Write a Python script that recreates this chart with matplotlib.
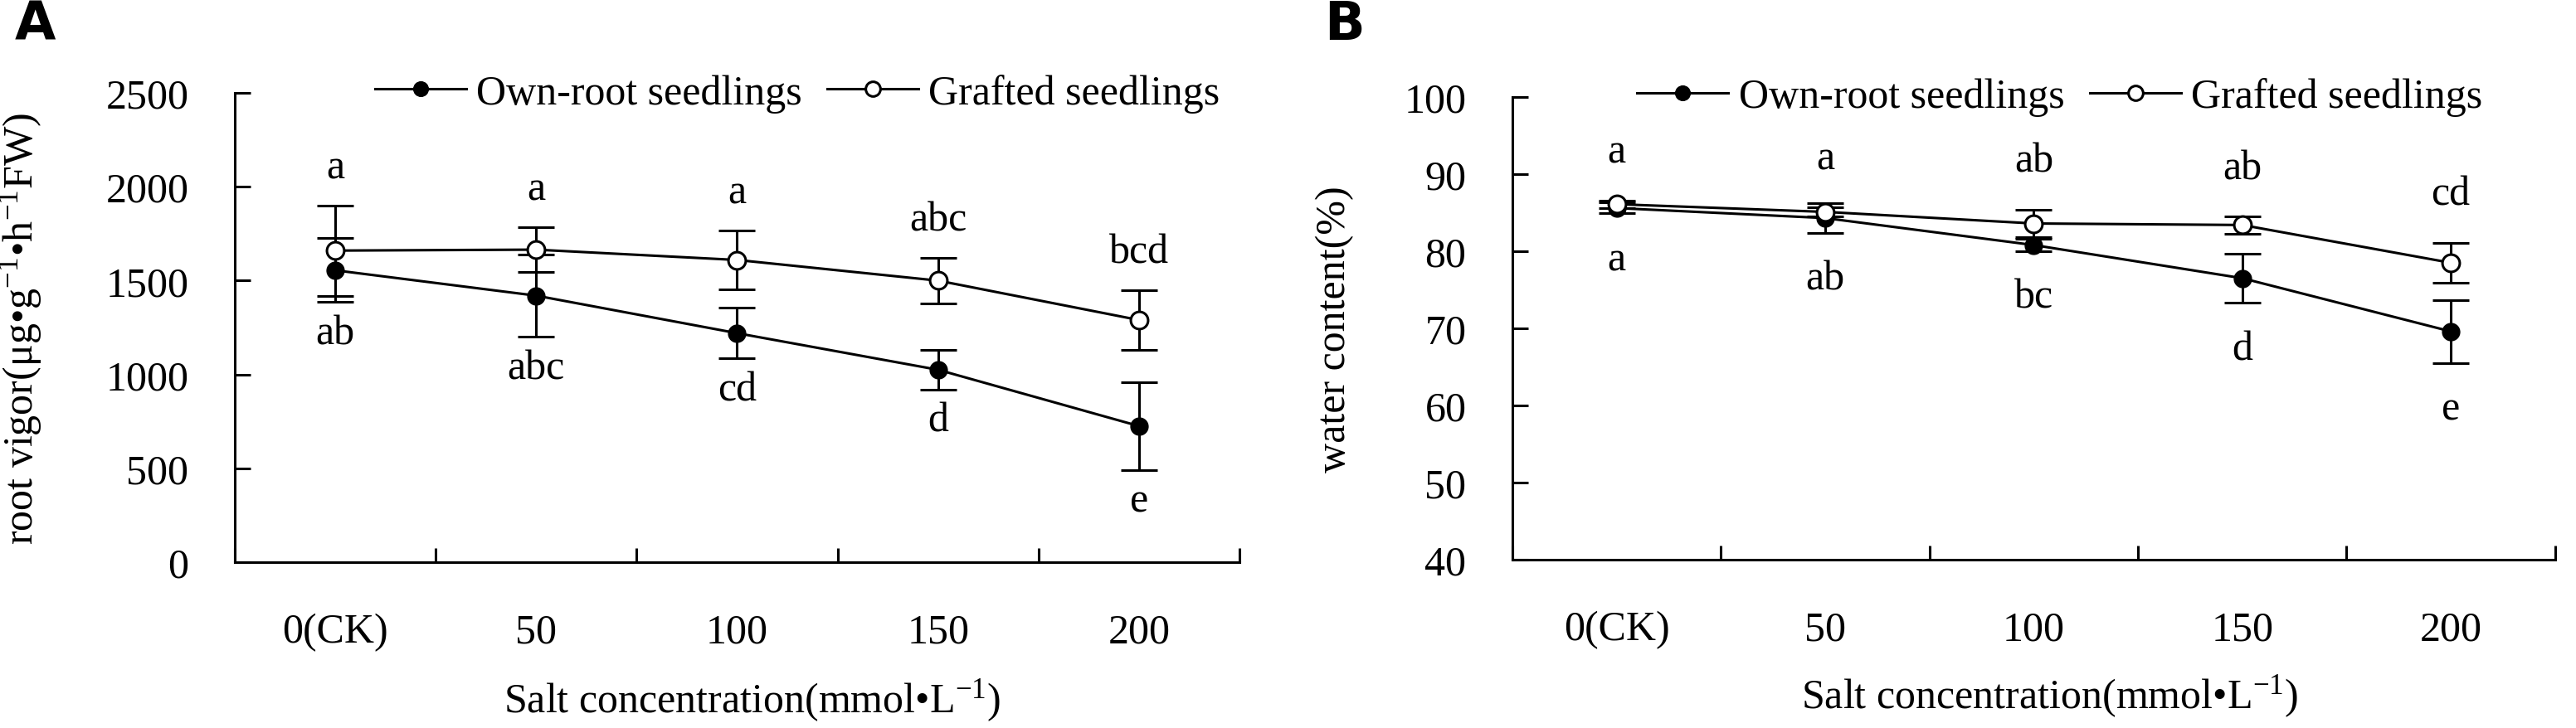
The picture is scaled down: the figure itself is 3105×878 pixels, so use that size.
import matplotlib
matplotlib.use("Agg")
import matplotlib.pyplot as plt
import numpy as np

plt.rcParams['font.family'] = ['Liberation Serif', 'DejaVu Serif']
plt.rcParams['mathtext.fontset'] = 'custom'
plt.rcParams['mathtext.rm'] = 'Liberation Serif'
plt.rcParams['mathtext.it'] = 'Liberation Serif:italic'

# categories (salt concentration)
conc_labels = ['0(CK)', '50', '100', '150', '200']

# A: root vigor
rv_own = [1555, 1420, 1220, 1025, 725]
rv_own_err = [170, 220, 135, 105, 235]
rv_graft = [1660, 1665, 1610, 1500, 1290]
rv_graft_err = [240, 120, 155, 120, 160]
rv_own_letters = ['ab', 'abc', 'cd', 'd', 'e']
rv_graft_letters = ['a', 'a', 'a', 'abc', 'bcd']

# B: water content
wc_own = [85.6, 84.3, 80.8, 76.5, 69.6]
wc_own_err = [0.7, 1.9, 0.8, 3.2, 4.1]
wc_graft = [86.1, 85.1, 83.6, 83.4, 78.5]
wc_graft_err = [0.5, 0.6, 1.8, 1.1, 2.6]
wc_own_letters = ['a', 'ab', 'bc', 'd', 'e']
wc_graft_letters = ['a', 'a', 'ab', 'ab', 'cd']

FS = 36
LW = 2.2

fig = plt.figure(figsize=(31.05, 8.79), dpi=100)
axA = fig.add_axes([0.0911, 0.2275, 0.3901, 0.6439])
axB = fig.add_axes([0.5871, 0.2309, 0.4048, 0.6349])


def panel(ax, own, own_err, graft, graft_err, own_let, graft_let, ylim, yticks,
          ylabel, ylab_x, up_off, dn_off, leg_x):
    x = np.arange(len(conc_labels))
    # error bars first, lines + markers on top
    ax.errorbar(x, own, yerr=own_err, fmt='none', ecolor='black', capsize=16,
                capthick=LW, elinewidth=LW, zorder=2)
    ax.errorbar(x, graft, yerr=graft_err, fmt='none', ecolor='black', capsize=16,
                capthick=LW, elinewidth=LW, zorder=2)
    ax.plot(x, own, color='black', lw=LW, marker='o', ms=15, mfc='black',
            mec='black', label='Own-root seedlings', zorder=3)
    ax.plot(x, graft, color='black', lw=LW, marker='o', ms=15, mfc='white',
            mec='black', mew=LW, label='Grafted seedlings', zorder=4)
    for i in range(len(x)):
        ax.annotate(graft_let[i], (x[i], graft[i] + graft_err[i]), xytext=(0, up_off),
                    textcoords='offset points', ha='center', va='center', fontsize=FS)
        ax.annotate(own_let[i], (x[i], own[i] - own_err[i]), xytext=(0, -dn_off),
                    textcoords='offset points', ha='center', va='center', fontsize=FS)

    ax.set_xlim(-0.5, len(x) - 0.5)
    ax.set_ylim(*ylim)
    ax.set_yticks(yticks)
    ax.set_xticks(np.arange(-0.5, len(x)))
    ax.set_xticklabels([])
    ax.set_xticks(x, minor=True)
    ax.set_xticklabels(conc_labels, minor=True)
    ax.tick_params(axis='x', which='major', direction='in', length=12, width=LW)
    ax.tick_params(axis='x', which='minor', length=0, pad=44, labelsize=FS)
    ax.tick_params(axis='y', direction='in', length=14, width=LW, pad=40, labelsize=FS)
    for s in ['top', 'right']:
        ax.spines[s].set_visible(False)
    for s in ['left', 'bottom']:
        ax.spines[s].set_linewidth(LW)

    ax.set_xlabel('Salt concentration(mmol•L$^{-1}$)', fontsize=FS)
    ax.xaxis.set_label_coords(0.515, -0.245)
    ax.set_ylabel(ylabel, fontsize=FS)
    ax.yaxis.set_label_coords(ylab_x, 0.5)

    ax.legend(loc='center', bbox_to_anchor=(leg_x, 1.0), ncol=2, frameon=False,
              fontsize=FS, handlelength=2.2, handletextpad=0.25, columnspacing=0.6,
              markerscale=0.85)


panel(axA, rv_own, rv_own_err, rv_graft, rv_graft_err, rv_own_letters, rv_graft_letters,
      (0, 2500), np.arange(0, 2501, 500), 'root vigor(μg•g$^{-1}$•h$^{-1}$FW)', -0.19,
      33, 27, 0.56)
panel(axB, wc_own, wc_own_err, wc_graft, wc_graft_err, wc_own_letters, wc_graft_letters,
      (40, 100), np.arange(40, 101, 10), 'water content(%)', -0.152,
      42, 40, 0.525)

fig.text(18 / 3105, 1 - 30 / 879, 'A', fontsize=46, fontweight='bold',
         family='DejaVu Sans', va='center', ha='left')
fig.text(1596 / 3105, 1 - 30 / 879, 'B', fontsize=46, fontweight='bold',
         family='DejaVu Sans', va='center', ha='left')

fig.savefig('out.png', dpi=100)
